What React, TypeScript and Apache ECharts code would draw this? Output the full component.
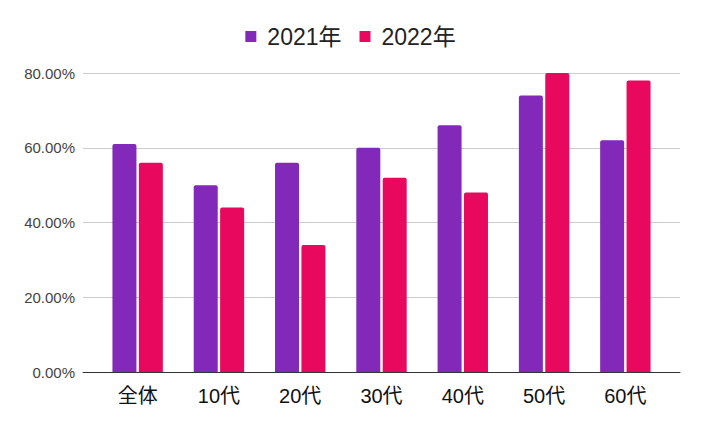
import React, { useEffect, useRef } from "react";
import * as echarts from "echarts";

const categories = ["全体", "10代", "20代", "30代", "40代", "50代", "60代"];
const series2021 = [0.61, 0.5, 0.56, 0.6, 0.66, 0.74, 0.62];
const series2022 = [0.56, 0.44, 0.34, 0.52, 0.48, 0.8, 0.78];
const seriesNames = ["2021年", "2022年"];
const colors = ["#8229b9", "#e8085e"];

const FONT = "'Liberation Sans', Arial, 'Noto Sans CJK JP', sans-serif";

export default function App() {
  const ref = useRef<HTMLDivElement>(null);
  useEffect(() => {
    document.body.style.margin = "0";
    const chart = echarts.init(ref.current!, undefined, { renderer: "svg" });
    chart.setOption({
      animation: false,
      textStyle: { fontFamily: FONT },
      legend: {
        top: 20,
        left: "center",
        itemWidth: 11,
        itemHeight: 11,
        itemGap: 18,
        icon: "rect",
        textStyle: { fontSize: 23, color: "#222", fontFamily: FONT, padding: [0, 0, 0, 6] },
        data: seriesNames,
      },
      grid: [
        { left: 83, right: 21, top: 73, bottom: 62 },
        { left: 97, right: 35, top: 73, bottom: 62 },
      ],
      xAxis: [
        {
          gridIndex: 0,
          type: "value",
          min: 0,
          max: 1,
          axisLine: { show: true, lineStyle: { color: "#333", width: 1 } },
          axisTick: { show: false },
          axisLabel: { show: false },
          splitLine: { show: false },
        },
        {
          gridIndex: 1,
          type: "category",
          data: categories,
          axisLine: { show: false },
          axisTick: { show: false },
          axisLabel: { fontSize: 20, color: "#111", margin: 14, fontFamily: FONT },
        },
      ],
      yAxis: [
        {
          gridIndex: 0,
          type: "value",
          min: 0,
          max: 0.8,
          interval: 0.2,
          axisLine: { show: false },
          axisTick: { show: false },
          axisLabel: {
            fontSize: 15,
            color: "#444",
            margin: 8,
            fontFamily: FONT,
            formatter: (v: number) => (v * 100).toFixed(2) + "%",
          },
          splitLine: { lineStyle: { color: "#cccccc", width: 1 } },
        },
        {
          gridIndex: 1,
          type: "value",
          min: 0,
          max: 0.8,
          show: false,
          splitLine: { show: false },
        },
      ],
      series: [
        {
          name: seriesNames[0],
          type: "bar",
          xAxisIndex: 1,
          yAxisIndex: 1,
          data: series2021,
          barWidth: 24,
          barGap: "10%",
          itemStyle: { color: colors[0], borderRadius: [2, 2, 0, 0] },
        },
        {
          name: seriesNames[1],
          type: "bar",
          xAxisIndex: 1,
          yAxisIndex: 1,
          data: series2022,
          barWidth: 24,
          barGap: "10%",
          itemStyle: { color: colors[1], borderRadius: [2, 2, 0, 0] },
        },
      ],
    });
    return () => chart.dispose();
  }, []);
  return <div ref={ref} style={{ width: 701, height: 434 }} />;
}
